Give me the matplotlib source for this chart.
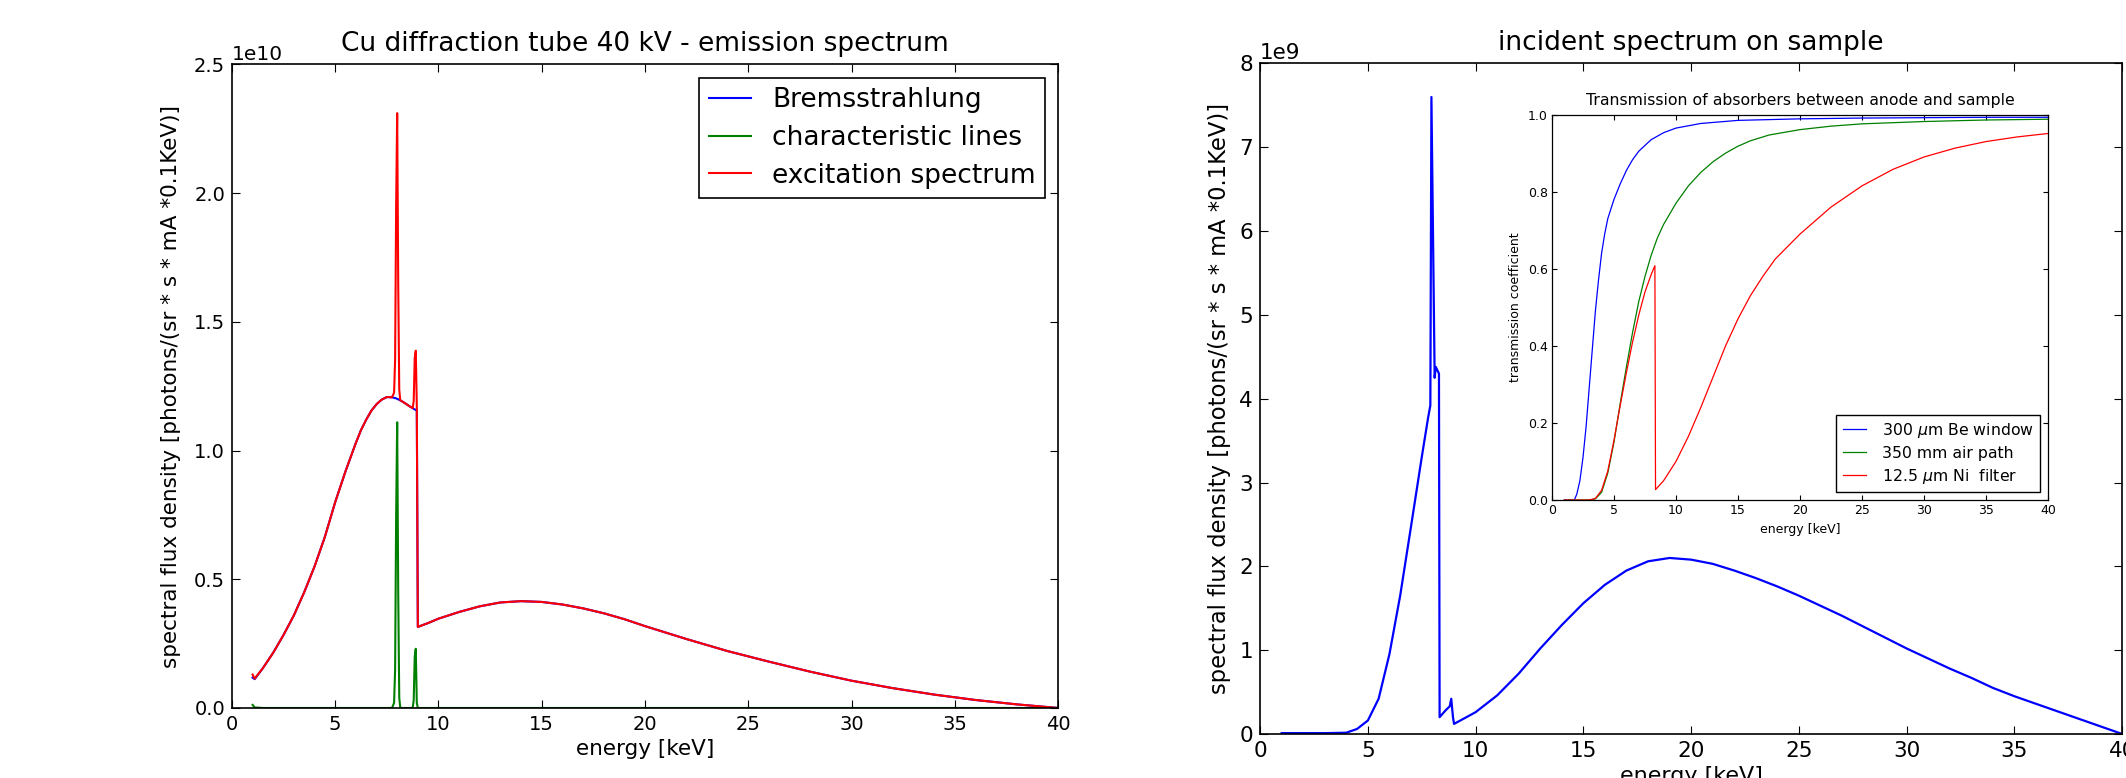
import numpy as np
import matplotlib
matplotlib.use("Agg")
import matplotlib.pyplot as plt

# ---- data (energies in keV) ----
# left panel: emission spectrum of the Cu tube, values in units of 1e10
energy = [1.0, 1.1, 1.5, 2.0, 2.5, 3.0, 3.5, 4.0, 4.5, 5.0, 5.5, 6.0, 6.25,
          6.5, 6.75, 7.0, 7.25, 7.5, 7.75, 7.85, 7.9, 7.95, 8.0, 8.05, 8.1,
          8.15, 8.2, 8.4, 8.6, 8.75, 8.8, 8.85, 8.9, 8.95, 9.0, 9.5, 10, 11,
          12, 13, 14, 15, 16, 17, 18, 19, 20, 22, 24, 26, 28, 30, 32, 34, 36,
          38, 40]
brems = [0.118, 0.112, 0.155, 0.215, 0.284, 0.36, 0.45, 0.55, 0.665, 0.80,
         0.92, 1.03, 1.08, 1.12, 1.155, 1.18, 1.198, 1.208, 1.207, 1.205,
         1.204, 1.203, 1.201, 1.199, 1.197, 1.195, 1.193, 1.183, 1.172, 1.165,
         1.162, 1.16, 1.158, 1.156, 0.315, 0.33, 0.347, 0.373, 0.395, 0.41,
         0.415, 0.412, 0.402, 0.387, 0.368, 0.345, 0.318, 0.268, 0.221, 0.18,
         0.141, 0.106, 0.077, 0.052, 0.031, 0.014, 0.0]
char_lines = [0.012, 0.002, 0, 0, 0, 0, 0, 0, 0, 0, 0, 0, 0,
              0, 0, 0, 0, 0, 0.0, 0.02, 0.15, 0.75, 1.11, 0.45, 0.04,
              0.0, 0, 0, 0, 0.0, 0.03, 0.2, 0.23, 0.02, 0, 0, 0, 0,
              0, 0, 0, 0, 0, 0, 0, 0, 0, 0, 0, 0, 0, 0, 0, 0, 0,
              0, 0]

# right panel: spectrum reaching the sample, units of 1e9
energy_inc = [1.0, 2.0, 3.0, 4.0, 4.5, 5.0, 5.5, 6.0, 6.5, 7.0, 7.5, 7.8, 7.9,
              7.95, 8.1, 8.15, 8.3, 8.33, 8.6, 8.8, 8.87, 8.95, 9.0, 10, 11,
              12, 13, 14, 15, 16, 17, 18, 19, 20, 21, 22, 23, 24, 25, 26, 27,
              28, 29, 30, 31, 32, 33, 34, 35, 36, 37, 38, 39, 40]
incident = [0.01, 0.01, 0.01, 0.015, 0.06, 0.16, 0.42, 0.95, 1.65, 2.47, 3.3,
            3.78, 3.92, 7.6, 4.25, 4.38, 4.3, 0.2, 0.28, 0.33, 0.42, 0.2, 0.12,
            0.26, 0.46, 0.72, 1.02, 1.3, 1.56, 1.78, 1.95, 2.06, 2.1, 2.08,
            2.03, 1.95, 1.86, 1.76, 1.65, 1.53, 1.41, 1.28, 1.15, 1.02, 0.9,
            0.78, 0.67, 0.55, 0.45, 0.36, 0.27, 0.18, 0.09, 0.0]

# inset: transmission of the absorbers
e_be = [1.0, 1.5, 1.8, 2.0, 2.25, 2.5, 2.75, 3.0, 3.25, 3.5, 3.75, 4.0, 4.25,
        4.5, 5.0, 5.5, 6.0, 6.5, 7.0, 8.0, 9.0, 10, 12, 15, 20, 25, 30, 35, 40]
t_be = [0.0, 0.0, 0.0, 0.015, 0.05, 0.11, 0.19, 0.29, 0.39, 0.49, 0.57, 0.64,
        0.69, 0.73, 0.78, 0.82, 0.855, 0.883, 0.905, 0.935, 0.953, 0.965,
        0.977, 0.985, 0.989, 0.991, 0.992, 0.993, 0.993]
e_air = [1.0, 3.0, 3.5, 4.0, 4.5, 5.0, 5.5, 6.0, 6.5, 7.0, 7.5, 8.0, 8.5, 9.0,
         10, 11, 12, 13, 14, 15, 16, 17.5, 20, 22.5, 25, 30, 35, 40]
t_air = [0.0, 0.0, 0.003, 0.02, 0.07, 0.15, 0.25, 0.345, 0.435, 0.515, 0.58,
         0.635, 0.68, 0.715, 0.77, 0.815, 0.85, 0.878, 0.9, 0.918, 0.932,
         0.947, 0.961, 0.97, 0.976, 0.982, 0.986, 0.988]
e_ni = [1.0, 3.0, 3.5, 4.0, 4.5, 5.0, 5.5, 6.0, 6.5, 7.0, 7.5, 8.0, 8.3, 8.35,
        9.0, 10, 11, 12, 13, 14, 15, 16, 17, 18, 20, 22.5, 25, 27.5, 30, 32.5,
        35, 37.5, 40]
t_ni = [0.0, 0.0, 0.004, 0.025, 0.075, 0.155, 0.245, 0.33, 0.41, 0.48, 0.54,
        0.585, 0.608, 0.027, 0.05, 0.1, 0.165, 0.24, 0.32, 0.4, 0.47, 0.53,
        0.58, 0.625, 0.69, 0.76, 0.815, 0.858, 0.89, 0.913, 0.93, 0.942, 0.951]

ylabel = "spectral flux density [photons/(sr * s * mA *0.1KeV)]"

plt.rcParams.update({
    "font.family": "DejaVu Sans",
    "mathtext.fontset": "dejavusans",
    "xtick.direction": "in", "ytick.direction": "in",
    "xtick.top": True, "ytick.right": True,
    "xtick.major.size": 6, "ytick.major.size": 6,
    "xtick.major.pad": 5, "ytick.major.pad": 5,
    "axes.linewidth": 1.2,
    "legend.fancybox": False, "legend.edgecolor": "black",
    "legend.framealpha": 1.0,
})

fig = plt.figure(figsize=(21.26, 7.78), dpi=100, facecolor="white")

# ---- left: emission spectrum ----
E = np.asarray(energy)
b = np.asarray(brems) * 1e10
c = np.asarray(char_lines) * 1e10

ax1 = fig.add_axes([0.1091, 0.0900, 0.3886, 0.8271])
ax1.plot(E, b, color="b", lw=1.5, label="Bremsstrahlung")
ax1.plot(E, c, color="g", lw=1.5, label="characteristic lines")
ax1.plot(E, b + c, color="r", lw=1.5, label="excitation spectrum")
ax1.set_xlim(0, 40)
ax1.set_ylim(0, 2.5e10)
ax1.set_title("Cu diffraction tube 40 kV - emission spectrum", fontsize=19, pad=10)
ax1.set_xlabel("energy [keV]", fontsize=15.5)
ax1.set_ylabel(ylabel, fontsize=15.5, labelpad=9)
ax1.tick_params(labelsize=14)
ax1.yaxis.get_offset_text().set_fontsize(14.5)
leg = ax1.legend(loc="upper right", fontsize=19, handlelength=1.6,
                 handletextpad=0.8, borderpad=0.35, labelspacing=0.45,
                 borderaxespad=0.5)
leg.get_frame().set_linewidth(1.2)

# ---- right: incident spectrum ----
ax2 = fig.add_axes([0.5927, 0.0566, 0.4055, 0.8618])
ax2.plot(energy_inc, np.asarray(incident) * 1e9, color="b", lw=1.6)
ax2.set_xlim(0, 40)
ax2.set_ylim(0, 8e9)
ax2.set_title("incident spectrum on sample", fontsize=19, pad=10)
ax2.set_xlabel("energy [keV]", fontsize=16)
ax2.set_ylabel(ylabel, fontsize=16.3, labelpad=6)
ax2.tick_params(labelsize=15.5)
ax2.yaxis.get_offset_text().set_fontsize(15.5)

# ---- inset: transmission ----
ax3 = fig.add_axes([0.7300, 0.3573, 0.2333, 0.4954])
ax3.plot(e_be, t_be, color="b", lw=0.9, label=r"300 $\mu$m Be window")
ax3.plot(e_air, t_air, color="g", lw=0.9, label="350 mm air path")
ax3.plot(e_ni, t_ni, color="r", lw=0.9, label=r"12.5 $\mu$m Ni  filter")
ax3.set_xlim(0, 40)
ax3.set_ylim(0, 1.0)
ax3.set_title("Transmission of absorbers between anode and sample", fontsize=11.3, pad=7)
ax3.set_xlabel("energy [keV]", fontsize=9)
ax3.set_ylabel("transmission coefficient", fontsize=9)
ax3.tick_params(labelsize=9, length=3.5, pad=3)
for s in ax3.spines.values():
    s.set_linewidth(0.9)
leg3 = ax3.legend(loc="lower right", fontsize=11.3, handlelength=1.5,
                  handletextpad=1.0, borderpad=0.4, labelspacing=0.38,
                  borderaxespad=0.5)
leg3.get_frame().set_linewidth(1.0)

fig.savefig("out.png", dpi=100, facecolor="white")
